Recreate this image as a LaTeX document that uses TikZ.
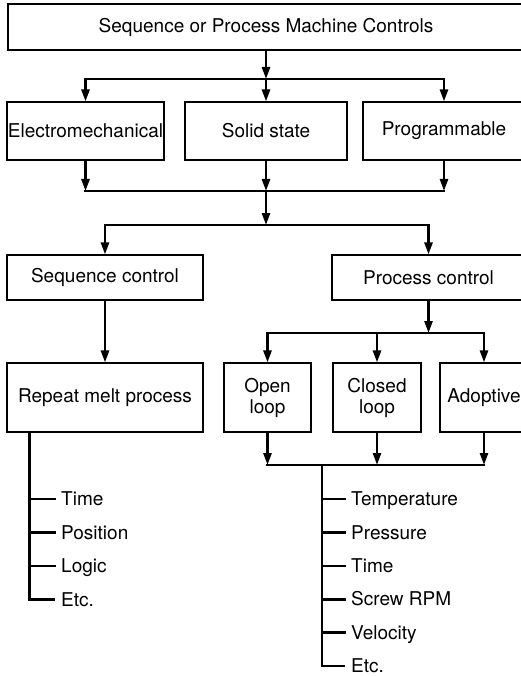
\documentclass[tikz,border=0pt]{standalone}
\usepackage{fontspec}
\setmainfont{TeX Gyre Heros}
\usetikzlibrary{arrows.meta}

\begin{document}
\begin{tikzpicture}[
    x=1pt, y=-1pt,
    mybox/.style={
    rectangle,
    draw=black,
    line width=1.1pt,
    inner sep=0pt,
    align=center,
    font=\fontsize{19}{21}\selectfont},
    myarrow/.style={-{Triangle[length=12pt,width=8pt]},line width=2.6pt},
    myline/.style={line width=2.6pt,line cap=rect},
    myitem/.style={
    anchor=west,
    inner ysep=0pt,
    inner xsep=6pt,
    text height=13.5pt,
    text depth=0pt,
    font=\fontsize{19}{21}\selectfont}
    ]
    \useasboundingbox (0,0) rectangle (521,676);

    \node[mybox, minimum width=516pt, minimum height=46pt] (smc) at (266,27) {Sequence or Process Machine Controls};

    \node[mybox, minimum width=157pt, minimum height=58pt] (em) at (85.5,131) {Electromechanical};
    \node[mybox, minimum width=162pt, minimum height=58pt] (ss) at (266,131) {Solid state};
    \node[mybox, minimum width=162pt, minimum height=58pt] (pr) at (444,131) {Programmable};

    \node[mybox, minimum width=196pt, minimum height=45pt] (sc) at (105,277.5) {Sequence control};
    \node[mybox, minimum width=193pt, minimum height=45pt] (pc) at (428.5,277.5) {Process control};

    \node[mybox, minimum width=196pt, minimum height=69pt] (rm) at (105,397.5) {Repeat melt process};
    \node[mybox, minimum width=87pt, minimum height=69pt] (ol) at (267.5,397.5) {Open\\loop};
    \node[mybox, minimum width=88pt, minimum height=69pt] (cl) at (377,397.5) {Closed\\loop};
    \node[mybox, minimum width=88pt, minimum height=69pt] (ad) at (484,397.5) {Adoptive};

    \coordinate (b1) at (266,79);
    \coordinate (b2) at (266,191);
    \coordinate (b3) at (266,225);
    \coordinate (b4) at (428.5,333);
    \coordinate (b5) at (322,465);
    \coordinate (lt) at ([xshift=23pt]rm.south west);

    \node[myitem] (lt1) at (55,499) {Time};
    \node[myitem] (lt2) at (55,532.5) {Position};
    \node[myitem] (lt3) at (55,566) {Logic};
    \node[myitem] (lt4) at (55,599.5) {Etc.};

    \node[myitem] (rt1) at (345,499) {Temperature};
    \node[myitem] (rt2) at (345,532.4) {Pressure};
    \node[myitem] (rt3) at (345,565.8) {Time};
    \node[myitem] (rt4) at (345,599.2) {Screw RPM};
    \node[myitem] (rt5) at (345,632.6) {Velocity};
    \node[myitem] (rt6) at (345,666) {Etc.};

    \draw[myarrow] (smc) -- (b1);
    \draw[myarrow] (b1) -| (em.north);
    \draw[myarrow] (b1) -- (ss.north);
    \draw[myarrow] (b1) -| (pr.north);

    \draw[myarrow] (em.south) -- (em.south |- b2);
    \draw[myarrow] (ss.south) -- (b2);
    \draw[myarrow] (pr.south) -- (pr.south |- b2);
    \draw[myline] (em.south |- b2) -- (pr.south |- b2);

    \draw[myarrow] (b2) -- (b3);
    \draw[myarrow] (b3) -| (sc.north);
    \draw[myarrow] (b3) -| (pc.north);

    \draw[myarrow] (sc) -- (rm);
    \draw[myarrow] (pc) -- (b4);
    \draw[myarrow] (b4) -| (ol.north);
    \draw[myarrow] (b4 -| cl.north) -- (cl.north);
    \draw[myarrow] (b4) -| (ad.north);

    \draw[myarrow] (ol.south) -- (ol.south |- b5);
    \draw[myarrow] (cl.south) -- (cl.south |- b5);
    \draw[myarrow] (ad.south) -- (ad.south |- b5);
    \draw[myline] (ol.south |- b5) -- (ad.south |- b5);

    \draw[myline,line cap=butt] (lt) |- (lt4.west);
    \draw[myline] (lt |- lt1.west) -- (lt1.west);
    \draw[myline] (lt |- lt2.west) -- (lt2.west);
    \draw[myline] (lt |- lt3.west) -- (lt3.west);

    \draw[myline,line cap=butt] (b5) |- (rt6.west);
    \draw[myline] (b5 |- rt1.west) -- (rt1.west);
    \draw[myline] (b5 |- rt2.west) -- (rt2.west);
    \draw[myline] (b5 |- rt3.west) -- (rt3.west);
    \draw[myline] (b5 |- rt4.west) -- (rt4.west);
    \draw[myline] (b5 |- rt5.west) -- (rt5.west);
\end{tikzpicture}
\end{document}
